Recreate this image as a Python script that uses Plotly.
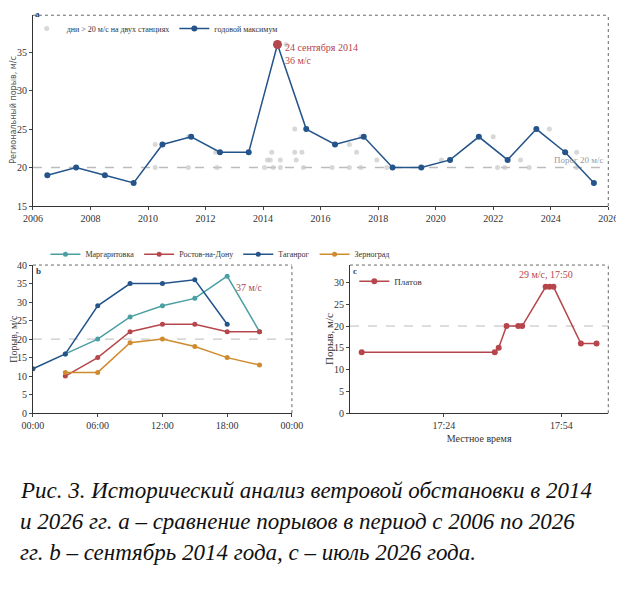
import plotly.graph_objects as go

years = [2006.5,2007.5,2008.5,2009.5,2010.5,2011.5,2012.5,2013.5,2014.5,2015.5,2016.5,2017.5,2018.5,2019.5,2020.5,2021.5,2022.5,2023.5,2024.5,2025.5]
annual_max = [19,20,19,18,23,24,22,22,36,25,23,24,20,20,21,24,21,25,22,18]
day_x = [2010.25,2010.25,2011.4,2011.4,2012.35,2012.4,2014.05,2014.15,2014.25,2014.3,2014.35,2014.6,2014.6,2014.8,2015.1,2015.1,2015.15,2015.35,2015.4,2016.4,2017.0,2017.0,2017.25,2017.4,2017.4,2017.95,2018.3,2020.2,2022.0,2022.15,2022.4,2022.95,2023.25,2023.95,2024.9,2024.9]
day_y = [23,20,20,24,22,20,20,21,21,22,20,21,20,36,25,22,21,22,20,20,23,20,22,24,20,21,20,21,24,20,20,21,20,25,22,20]

hours = [0,3,6,9,12,15,18,21]
marg = [None,16,20,26,29,31,37,22]
rost = [None,10,15,22,24,24,22,22]
tagan = [12,16,29,35,35,36,24,None]
zern = [None,11,11,19,20,18,15,13]

platov_t = ["2026-07-01 17:03","2026-07-01 17:37","2026-07-01 17:38","2026-07-01 17:40","2026-07-01 17:43","2026-07-01 17:44",
            "2026-07-01 17:50","2026-07-01 17:51","2026-07-01 17:52","2026-07-01 17:59","2026-07-01 18:03"]
platov_v = [14,14,15,20,20,20,29,29,29,16,16]

caption_lines = ["Рис. 3. Исторический анализ ветровой обстановки в 2014",
                 "и 2026 гг. a – сравнение порывов в период с 2006 по 2026",
                 "гг. b – сентябрь 2014 года, c – июль 2026 года."]

SERIF = "Liberation Serif"
BLUE = "#24548a"; RED = "#b5464b"; TEAL = "#4a9fa3"; ORANGE = "#d08b2e"; GREY = "#c8c8c8"

fig = go.Figure()
fig.add_trace(go.Scatter(x=day_x, y=day_y, mode="markers", marker=dict(color=GREY, size=5, opacity=0.7),
                         name="дни > 20 м/с на двух станциях", xaxis="x", yaxis="y"))
fig.add_trace(go.Scatter(x=years, y=annual_max, mode="lines+markers", line=dict(color=BLUE, width=1.5),
                         marker=dict(size=6), name="годовой максимум", xaxis="x", yaxis="y"))
fig.add_trace(go.Scatter(x=[years[8]], y=[annual_max[8]], mode="markers", marker=dict(color=RED, size=9),
                         showlegend=False, xaxis="x", yaxis="y"))

for name, vals, col in [("Маргаритовка", marg, TEAL), ("Ростов-на-Дону", rost, RED), ("Таганрог", tagan, BLUE), ("Зерноград", zern, ORANGE)]:
    fig.add_trace(go.Scatter(x=hours, y=vals, mode="lines+markers", line=dict(color=col, width=1.5),
                             marker=dict(size=5), name=name, xaxis="x2", yaxis="y2", legend="legend2"))

fig.add_trace(go.Scatter(x=platov_t, y=platov_v, mode="lines+markers", line=dict(color=RED, width=1.5),
                         marker=dict(size=6), name="Платов", xaxis="x3", yaxis="y3", legend="legend3"))

tf = dict(family=SERIF, size=10, color="#333")
ax = dict(showgrid=False, zeroline=False, showline=True, linecolor="#333", ticks="outside", ticklen=3,
          tickfont=tf, mirror=False, automargin=False)
fig.update_layout(
    width=624, height=602, margin=dict(l=0, r=0, t=0, b=0), plot_bgcolor="white", paper_bgcolor="white",
    xaxis=dict(ax, domain=[0.040, 0.962], range=[2006, 2026], dtick=2, anchor="y"),
    yaxis=dict(ax, domain=[0.671, 0.988], range=[15, 39.8], tickvals=[15,20,25,30,35], anchor="x"),
    xaxis2=dict(ax, domain=[0.040, 0.455], range=[0, 24], tickvals=[0,6,12,18,24],
                ticktext=["00:00","06:00","12:00","18:00","00:00"], anchor="y2"),
    yaxis2=dict(ax, domain=[0.327, 0.573], range=[0, 40], dtick=5, anchor="x2"),
    xaxis3=dict(ax, domain=[0.548, 0.962], type="date", range=["2026-07-01 17:00", "2026-07-01 18:06"],
                tickvals=["2026-07-01 17:24", "2026-07-01 17:54"], ticktext=["17:24","17:54"], anchor="y3",
                title=dict(text="Местное время", font=dict(family=SERIF, size=10, color="#333"), standoff=4)),
    yaxis3=dict(ax, domain=[0.327, 0.573], range=[0, 34], tickvals=[0,5,10,15,20,25,30], anchor="x3"),
    legend=dict(x=0.03, y=0.99, xanchor="left", yanchor="top", orientation="h", font=dict(family=SERIF, size=8, color="#333"),
                bgcolor="rgba(0,0,0,0)"),
    legend2=dict(x=0.06, y=0.615, xanchor="left", yanchor="top", orientation="h", font=dict(family=SERIF, size=8, color="#333"),
                 bgcolor="rgba(0,0,0,0)", tracegroupgap=0, itemwidth=30),
    legend3=dict(x=0.555, y=0.57, xanchor="left", yanchor="top", font=dict(family=SERIF, size=9, color="#333"),
                 bgcolor="rgba(0,0,0,0)"),
    showlegend=True,
)

for xr, yr in [("x", "y"), ("x2", "y2"), ("x3", "y3")]:
    fig.add_shape(type="line", xref=xr + " domain", yref=yr, x0=0, x1=1, y0=20, y1=20,
                  line=dict(color="#bbbbbb", width=1.5 if xr == "x" else 1, dash="dash"), layer="below")
    fig.add_shape(type="line", xref=xr + " domain", yref=yr + " domain", x0=0, x1=1, y0=1, y1=1, line=dict(color="#666", width=1, dash="dot"))
    fig.add_shape(type="line", xref=xr + " domain", yref=yr + " domain", x0=1, x1=1, y0=0, y1=1, line=dict(color="#666", width=1, dash="dot"))

ann = [
    dict(x=2014.7, y=34.8, xref="x", yref="y", text="24 сентября 2014<br>36 м/с", showarrow=False, xanchor="left", yanchor="middle",
         align="left", font=dict(family=SERIF, size=10, color=RED)),
    dict(x=2025.9, y=20.1, xref="x", yref="y", text="Порог 20 м/с", showarrow=False, xanchor="right", yanchor="bottom",
         font=dict(family=SERIF, size=9, color="#999")),
    dict(x=18.6, y=34, xref="x2", yref="y2", text="37 м/с", showarrow=False, xanchor="left",
         font=dict(family=SERIF, size=10, color=RED)),
    dict(x="2026-07-01 17:50", y=30.2, xref="x3", yref="y3", text="29 м/с, 17:50", showarrow=False, yanchor="bottom",
         font=dict(family=SERIF, size=10, color=RED)),
    dict(x=0.040, y=0.99, xref="paper", yref="paper", text="<b>a</b>", showarrow=False, xanchor="left", yanchor="middle",
         font=dict(family=SERIF, size=9)),
    dict(x=0.042, y=0.575, xref="paper", yref="paper", text="<b>b</b>", showarrow=False, xanchor="left", yanchor="top",
         font=dict(family=SERIF, size=9)),
    dict(x=0.55, y=0.575, xref="paper", yref="paper", text="<b>c</b>", showarrow=False, xanchor="left", yanchor="top",
         font=dict(family=SERIF, size=9)),
    dict(x=0.0, y=0.83, xref="paper", yref="paper", text="Региональный порыв, м/с", textangle=-90, showarrow=False,
         xanchor="left", yanchor="middle", borderpad=0, font=dict(family="DejaVu Sans", size=8, color="#555")),
    dict(x=-0.003, y=0.45, xref="paper", yref="paper", text="Порыв, м/с", textangle=-90, showarrow=False,
         xanchor="left", yanchor="middle", borderpad=0, font=dict(family=SERIF, size=10, color="#333")),
    dict(x=0.503, y=0.45, xref="paper", yref="paper", text="Порыв, м/с", textangle=-90, showarrow=False,
         xanchor="left", yanchor="middle", borderpad=0, font=dict(family=SERIF, size=11, color="#333")),
]
for i, line in enumerate(caption_lines):
    ann.append(dict(x=10/624, y=1 - (482 + 31*i)/602, xref="paper", yref="paper", xanchor="left", yanchor="middle",
                    showarrow=False, text="<i>" + line + "</i>", font=dict(family=SERIF, size=23, color="#111")))
fig.update_layout(annotations=ann)
fig.write_html("out.html")
